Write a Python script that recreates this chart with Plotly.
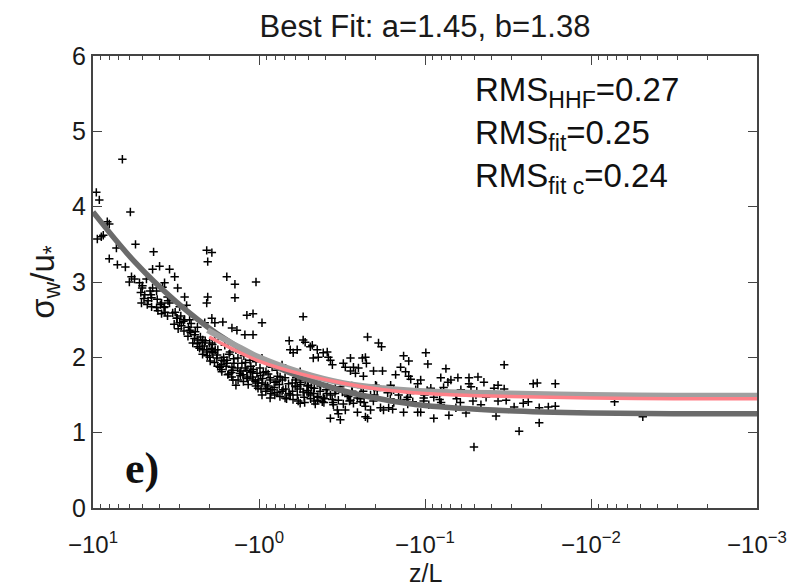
import plotly.graph_objects as go

# ---------------- data ----------------
# x values are stored as log10(-z/L); y values are sigma_w/u*
obs_log10_neg_zL = [
 0.980,0.962,0.823,0.775,0.914,0.902,0.974,0.950,0.938,0.859,0.744,0.902,0.853,0.805,0.635,0.599,0.641,0.539,0.508,0.768,
 0.750,0.781,0.720,0.702,0.678,0.641,0.617,0.569,0.581,0.490,0.448,0.647,0.708,0.647,0.617,0.587,0.569,0.551,0.539,0.478,
 0.436,0.520,0.496,0.478,0.448,0.418,0.387,0.369,0.399,0.418,0.315,0.284,0.309,0.194,0.145,0.145,0.018,0.309,0.315,0.327,
 0.284,0.266,0.218,0.163,0.133,0.073,0.036,0.085,0.036,-0.018,0.369,0.339,0.315,0.284,0.278,0.254,0.224,0.194,0.163,0.157,
 0.236,0.127,0.103,0.073,0.042,0.012,-0.006,-0.048,-0.079,-0.109,-0.127,-0.018,-0.048,-0.079,-0.109,-0.145,-0.188,-0.206,-0.230,-0.266,
 -0.309,-0.351,-0.387,-0.418,0.036,0.073,0.115,0.157,-0.200,-0.230,-0.266,-0.309,-0.351,-0.387,
 0.266,0.206,0.175,0.139,0.091,0.054,0.018,-0.018,-0.042,-0.067,-0.097,-0.157,-0.175,-0.139,-0.248,-0.278,-0.297,-0.333,-0.369,-0.405,
 -0.430,-0.460,-0.478,-0.502,-0.182,-0.266,-0.278,-0.321,-0.327,-0.357,-0.411,-0.430,-0.442,-0.508,-0.551,-0.569,-0.599,-0.623,-0.641,-0.654,
 -0.720,-0.738,-0.871,-0.902,-1.005,-1.017,-0.647,-1.126,-0.520,-0.551,-0.581,-0.690,-0.744,-0.629,-0.853,-0.883,-0.902,-0.914,-0.974,-0.956,
 -1.095,-1.138,-1.156,-1.198,-1.265,-1.319,-1.355,-1.265,-1.416,-1.440,-0.490,-0.532,-0.551,-0.569,-0.508,-0.593,-0.611,-0.641,-0.672,-0.520,
 -0.641,-0.732,-0.750,-0.781,-0.805,-0.871,-0.956,-0.974,-0.896,-0.992,-1.053,-1.053,-1.144,-1.247,-1.428,-1.295,-0.811,-0.841,-0.775,-1.477,
 -1.652,-1.676,-1.785,-1.477,-1.440,-1.489,-1.592,-1.622,-1.537,-1.688,-1.743,-1.785,-1.688,-1.567,-2.142,-2.312,-0.297,-0.339,-0.381,-0.448,
 -0.472,-0.478,-0.593,-0.654,-0.248,-0.224,-0.430,-0.490,-0.672,-0.702,-0.793,-0.823,-0.944,-1.035,-1.095,-1.186,-1.216,-1.307,-1.368,-1.337,
 -1.095,-1.186,-1.277,-0.853,-0.926,-1.023,0.339,0.297,0.248,0.224,0.188,0.139,0.006,-0.018,-0.067,-0.157,-0.188,-0.248,
]
obs_sigma_w_ustar = [
 4.19,4.09,4.63,3.93,3.80,3.77,3.57,3.60,3.62,3.45,3.50,3.31,3.23,3.20,3.40,3.21,3.17,3.17,3.07,3.07,
 3.04,3.00,2.99,2.95,3.04,2.92,2.88,2.99,2.93,2.92,2.80,2.79,2.72,2.67,2.66,2.72,2.67,2.80,2.72,2.67,
 2.69,2.59,2.52,2.46,2.50,2.36,2.30,2.23,2.19,2.50,3.42,3.39,3.27,3.07,2.97,2.79,3.00,2.80,2.72,2.46,
 2.52,2.46,2.47,2.39,2.36,2.56,2.58,2.30,2.30,2.46,2.14,2.10,2.07,2.12,2.06,1.99,1.96,1.92,1.87,1.83,
 1.87,1.99,1.92,1.83,1.81,1.79,1.86,1.92,1.87,1.83,1.74,1.66,1.59,1.57,1.53,1.57,2.10,2.06,2.10,2.54,
 2.14,2.10,2.06,2.00,1.70,1.74,1.79,1.70,1.66,1.61,1.54,1.50,1.47,1.46,
 2.23,2.16,2.07,2.10,2.02,1.96,1.94,1.99,1.81,1.73,1.67,1.73,1.83,1.90,1.81,1.70,1.63,1.59,1.65,1.57,
 1.50,1.59,1.43,1.54,2.22,2.23,2.20,2.16,1.99,2.00,2.07,1.96,1.90,1.92,1.99,1.87,1.86,1.99,2.00,2.27,
 2.19,2.14,2.02,1.95,2.06,1.91,1.92,1.85,1.87,1.82,1.79,1.82,1.82,1.75,1.87,1.81,1.75,1.71,1.70,1.65,
 1.73,1.67,1.70,1.73,1.73,1.74,1.67,1.65,1.59,1.63,1.61,1.50,1.43,1.39,1.38,1.46,1.41,1.35,1.30,1.30,
 1.21,1.33,1.30,1.33,1.31,1.27,1.27,1.27,1.47,1.46,1.47,1.19,1.23,1.26,1.22,0.81,1.57,1.50,1.53,1.90,
 1.65,1.66,1.65,1.58,1.42,1.43,1.39,1.41,1.34,1.33,1.34,1.35,1.13,1.02,1.41,1.21,1.53,1.38,1.41,1.37,
 1.30,1.25,1.27,1.19,1.67,1.73,1.19,1.17,1.50,1.63,1.63,1.77,1.57,1.59,1.54,1.50,1.57,1.50,1.47,1.37,
 1.37,1.33,1.61,1.43,1.41,1.37,2.23,2.19,2.10,1.81,1.77,1.63,1.59,1.50,1.46,1.46,1.50,1.39,
]

# denser part of the cloud
band_log10_neg_zL = [
 0.712,0.693,0.704,0.688, 0.668,0.651,0.673,0.656, 0.609,0.594,0.613,0.587, 0.566,0.551,0.572,0.548,
 0.511,0.493,0.505,0.487, 0.468,0.452,0.471,0.455, 0.428,0.412,0.425,0.409, 0.389,0.372,0.384,0.371,
 0.358,0.342,0.353,0.340, 0.329,0.311,0.324,0.314, 0.297,0.283,0.294,0.281, 0.268,0.252,0.264,0.249,
 0.228,0.213,0.226,0.211, 0.198,0.182,0.193,0.180, 0.167,0.151,0.164,0.153, 0.128,0.112,0.126,0.109,
 0.097,0.083,0.094,0.081, 0.068,0.052,0.065,0.049, 0.038,0.022,0.034,0.019, 0.008,-0.009,0.005,-0.012,
 -0.022,-0.039,-0.026,-0.041, -0.052,-0.068,-0.055,-0.071, -0.091,-0.108,-0.095,-0.112, -0.122,-0.139,-0.126,-0.141,
 -0.161,-0.178,-0.166,-0.181, -0.202,-0.218,-0.205,-0.221, -0.231,-0.248,-0.236,-0.251, -0.272,-0.289,-0.275,-0.291,
 -0.311,-0.328,-0.315,-0.331, -0.352,-0.368,-0.355,-0.371, -0.391,-0.409,-0.396,-0.412, -0.441,-0.458,-0.446,-0.462,
 -0.538,-0.562,-0.545,-0.559, -0.611,-0.628,-0.615,-0.633, -0.689,-0.712,-0.695,-0.708,
 -0.791,-0.812,-0.798, -0.889,-0.911,-0.896, -0.992,-1.013,-0.997, -1.088,-1.112,-1.097, -1.191,-1.213, -1.289,-1.312,
]
band_sigma_w_ustar = [
 2.86,2.78,2.92,2.83, 2.75,2.83,2.70,2.88, 2.62,2.70,2.77,2.58, 2.60,2.55,2.66,2.75,
 2.44,2.52,2.60,2.38, 2.42,2.35,2.55,2.48, 2.28,2.33,2.40,2.45, 2.25,2.18,2.34,2.40,
 2.12,2.20,2.27,2.04, 2.15,2.02,2.22,2.10, 2.00,2.08,1.95,2.17, 1.93,2.03,2.10,1.88,
 1.90,2.00,1.84,1.95, 1.88,1.78,1.96,2.04, 1.80,1.92,1.74,1.98, 1.86,1.76,1.70,1.82,
 1.77,1.86,1.68,1.93, 1.72,1.80,1.64,1.88, 1.74,1.68,1.84,1.62, 1.66,1.76,1.70,1.58,
 1.72,1.64,1.80,1.55, 1.62,1.70,1.78,1.52, 1.60,1.68,1.50,1.75, 1.64,1.55,1.48,1.70,
 1.58,1.65,1.45,1.52, 1.55,1.62,1.44,1.70, 1.50,1.58,1.42,1.64, 1.47,1.56,1.40,1.62,
 1.45,1.52,1.60,1.42, 1.43,1.55,1.48,1.62, 1.40,1.52,1.45,1.60, 1.44,1.52,1.40,1.56,
 1.48,1.55,1.42,1.62, 1.45,1.55,1.60,1.40, 1.42,1.56,1.50,1.62,
 1.45,1.40,1.55, 1.44,1.52,1.38, 1.42,1.56,1.50, 1.44,1.60,1.40, 1.45,1.40, 1.42,1.55,
]

# HHF curve (dark grey)
hhf_log10_neg_zL = [1.0, 0.75, 0.5, 0.25, 0.0, -0.25, -0.5, -0.75, -1.0, -1.5, -2.0, -2.5, -3.0]
hhf_sigma = [3.93, 3.27, 2.74, 2.31, 1.98, 1.74, 1.56, 1.44, 1.36, 1.29, 1.26, 1.25, 1.25]

# fit c curve (light grey)
fitc_log10_neg_zL = [0.31, 0.15, 0.0, -0.25, -0.5, -0.75, -1.0, -1.5, -2.0, -2.5, -3.0]
fitc_sigma = [2.36, 2.17, 2.00, 1.80, 1.66, 1.59, 1.55, 1.52, 1.50, 1.49, 1.49]

# best fit curve (pink)
fit_log10_neg_zL = [0.30, 0.15, 0.0, -0.25, -0.5, -0.75, -1.0, -1.5, -2.0, -2.5, -3.0]
fit_sigma = [2.27, 2.10, 1.95, 1.78, 1.66, 1.57, 1.52, 1.48, 1.46, 1.45, 1.45]

x_tick_vals = [10, 1, 0.1, 0.01, 0.001]
x_tick_text = ["\u221210<sup>1</sup>", "\u221210<sup>0</sup>", "\u221210<sup>\u22121</sup>",
               "\u221210<sup>\u22122</sup>", "\u221210<sup>\u22123</sup>"]
y_tick_vals = [0, 1, 2, 3, 4, 5, 6]

title_text = "Best Fit: a=1.45, b=1.38"
x_title = "z/L"
y_title = "\u03c3<sub>w</sub>/u<sub>*</sub>"
rms_lines = ["RMS<sub>HHF</sub>=0.27", "RMS<sub>fit</sub>=0.25", "RMS<sub>fit c</sub>=0.24"]

# ---------------- figure ----------------
def mag(v):
    return [10 ** t for t in v]

FONT = "Liberation Sans, Arial, sans-serif"

all_lz = obs_log10_neg_zL + band_log10_neg_zL
all_y = obs_sigma_w_ustar + band_sigma_w_ustar

fig = go.Figure()
fig.add_trace(go.Scatter(
    x=mag(all_lz), y=all_y, mode="markers",
    marker=dict(symbol="cross-thin", size=6, color="black",
                line=dict(width=1.5, color="black")),
    showlegend=False, hoverinfo="skip"))
fig.add_trace(go.Scatter(
    x=mag(hhf_log10_neg_zL), y=hhf_sigma, mode="lines", line_shape="spline",
    line=dict(color="#6b6b6b", width=5.5), showlegend=False))
fig.add_trace(go.Scatter(
    x=mag(fitc_log10_neg_zL), y=fitc_sigma, mode="lines", line_shape="spline",
    line=dict(color="#a0a0a0", width=6), showlegend=False))
fig.add_trace(go.Scatter(
    x=mag(fit_log10_neg_zL), y=fit_sigma, mode="lines", line_shape="spline",
    line=dict(color="#ff8088", width=3.5), showlegend=False))

minor_vals = []
for dec in [1, 0.1, 0.01, 0.001]:
    for k in range(2, 10):
        minor_vals.append(dec * k)

fig.update_layout(
    width=787, height=587,
    margin=dict(l=93, r=30, t=56, b=79),
    paper_bgcolor="white", plot_bgcolor="white",
    font=dict(family=FONT, size=24, color="#1a1a1a"),
    title=dict(text=title_text, x=0.5, xref="paper", y=1 - 26 / 587, yref="container",
               yanchor="middle", xanchor="center",
               font=dict(family=FONT, size=31, color="#1a1a1a")),
    xaxis=dict(type="log", range=[1, -3], tickvals=x_tick_vals, ticktext=x_tick_text,
               ticks="inside", ticklen=9, tickwidth=1, tickcolor="#444444",
               mirror="ticks", showline=True, linecolor="#444444", linewidth=2,
               showgrid=False, zeroline=False, automargin=False,
               ticklabelstandoff=14, ticklabeloverflow="allow",
               tickfont=dict(family=FONT, size=24, color="#1a1a1a"),
               minor=dict(tickvals=minor_vals, ticks="inside", ticklen=4,
                          tickcolor="#444444", tickwidth=1, showgrid=False)),
    yaxis=dict(range=[0, 6], tickvals=y_tick_vals,
               ticks="inside", ticklen=9, tickwidth=1, tickcolor="#444444",
               mirror="ticks", showline=True, linecolor="#444444", linewidth=2,
               showgrid=False, zeroline=False, automargin=False,
               tickfont=dict(family=FONT, size=25, color="#1a1a1a"),
               title=dict(text=y_title, standoff=8,
                          font=dict(family=FONT, size=33, color="#1a1a1a"))),
)

# x-axis title placed under the tick labels
fig.add_annotation(text=x_title, xref="paper", yref="paper", x=0.5, y=-0.143,
                   xanchor="center", yanchor="middle", showarrow=False,
                   font=dict(family=FONT, size=25, color="#1a1a1a"))

rms_y = [0.92, 0.825, 0.73]
for txt, yy in zip(rms_lines, rms_y):
    fig.add_annotation(text=txt, xref="paper", yref="paper", x=0.572, y=yy,
                       xanchor="left", yanchor="middle", showarrow=False,
                       font=dict(family=FONT, size=33, color="#111111"))

fig.add_annotation(text="<b>e)</b>", xref="paper", yref="paper", x=0.074, y=0.088,
                   xanchor="center", yanchor="middle", showarrow=False,
                   font=dict(family="Liberation Serif, Times New Roman, serif", size=44,
                             color="#111111"))

fig.write_html("out.html")
